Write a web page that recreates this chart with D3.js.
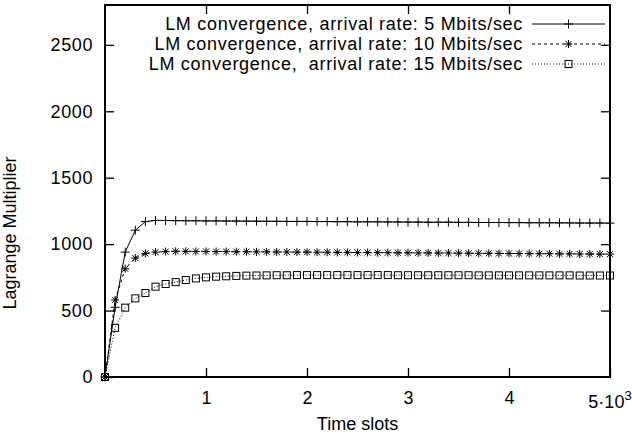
<!DOCTYPE html>
<html>
<head>
<meta charset="utf-8">
<script src="https://cdn.jsdelivr.net/npm/d3@7"></script>
<style>
  body { margin: 0; background: #fff; }
  text { font-family: "Liberation Sans", Arial, sans-serif; fill: #000; white-space: pre; }
</style>
</head>
<body>
<div id="chart"></div>
<script>

// time slots, one sample every 100 slots
var slots = d3.range(0, 5001, 100);

// LM values
var lm5 = [0, 525, 940, 1105, 1170, 1178, 1178, 1177, 1176, 1176, 1175,
    1175, 1174, 1174, 1173, 1173, 1172, 1172, 1171, 1171, 1171,
    1170, 1170, 1169, 1169, 1168, 1168, 1168, 1167, 1167, 1166,
    1166, 1165, 1165, 1165, 1164, 1164, 1163, 1163, 1163, 1162,
    1162, 1161, 1161, 1161, 1160, 1160, 1159, 1159, 1159, 1158];

var lm10 = [0, 580, 815, 895, 930, 940, 944, 946, 946, 945, 945,
    944, 944, 943, 943, 942, 942, 941, 941, 940, 940,
    939, 939, 938, 938, 937, 937, 936, 936, 935, 935,
    934, 934, 933, 933, 932, 932, 931, 931, 930, 930,
    929, 929, 928, 928, 927, 927, 926, 926, 925, 925];

var lm15 = [0, 370, 522, 592, 632, 680, 700, 714, 730, 742, 750,
    755, 758, 761, 763, 764, 765, 766, 766, 767, 767,
    767, 767, 767, 767, 767, 767, 767, 767, 766, 766,
    766, 766, 766, 766, 766, 766, 765, 765, 765, 765,
    765, 765, 765, 765, 765, 765, 764, 764, 764, 764];

var seriesNames = ["LM convergence, arrival rate: 5 Mbits/sec",
    "LM convergence, arrival rate: 10 Mbits/sec",
    "LM convergence,  arrival rate: 15 Mbits/sec"];

var xTicks = [1000, 2000, 3000, 4000, 5000];
var yTicks = [0, 500, 1000, 1500, 2000, 2500];

var margin = { top: 5, right: 22, bottom: 64, left: 105 };
var width = 632 - margin.left - margin.right,
    height = 441 - margin.top - margin.bottom;

var svg = d3.select("#chart").append("svg")
    .attr("width", 632)
    .attr("height", 441)
  .append("g")
    .attr("transform", "translate(" + margin.left + "," + margin.top + ")");

var x = d3.scaleLinear().domain([0, 5000]).range([0, width]);
var y = d3.scaleLinear().domain([0, 2800]).range([height, 0]);

// inward ticks on all four sides, gnuplot style
var tickLen = 9;
var xAxis = d3.axisBottom(x).tickValues(xTicks).tickSizeInner(-tickLen).tickSizeOuter(0)
    .tickFormat(function(d) { return d === 5000 ? "" : d / 1000; });
var yAxis = d3.axisLeft(y).tickValues(yTicks).tickSizeInner(-tickLen).tickSizeOuter(0)
    .tickFormat(d3.format("d"));

var gx = svg.append("g").attr("class", "x-axis axis")
    .attr("transform", "translate(0," + height + ")")
    .call(xAxis);
var gy = svg.append("g").attr("class", "y-axis axis").call(yAxis);

svg.append("g").attr("transform", "translate(0,0)")
    .call(d3.axisTop(x).tickValues(xTicks.slice(0, 4)).tickSizeInner(-tickLen).tickSizeOuter(0).tickFormat(""));
svg.append("g").attr("transform", "translate(" + width + ",0)")
    .call(d3.axisRight(y).tickValues(yTicks.slice(1)).tickSizeInner(-tickLen).tickSizeOuter(0).tickFormat(""));

svg.selectAll(".domain").remove();
svg.selectAll(".tick line").attr("stroke", "#000").attr("stroke-width", 1.3);

gx.selectAll(".tick text").attr("font-size", "18px").attr("dy", "1.35em");
gy.selectAll(".tick text").attr("font-size", "18px").attr("x", -12)
    .attr("letter-spacing", "0.6px");

// the last x label carries a superscript
var lastTick = gx.append("text")
    .attr("x", x(5000))
    .attr("y", 31)
    .attr("text-anchor", "middle")
    .attr("font-size", "18px");
lastTick.append("tspan").text("5\u00b710");
lastTick.append("tspan").text("3").attr("font-size", "13px").attr("dy", -8);

// frame
svg.append("rect")
    .attr("width", width)
    .attr("height", height)
    .attr("fill", "none")
    .attr("stroke", "#000")
    .attr("stroke-width", 2);

svg.append("text")
    .attr("x", width / 2)
    .attr("y", height + 53)
    .attr("text-anchor", "middle")
    .attr("font-size", "18px")
    .text("Time slots");

svg.append("text")
    .attr("transform", "translate(" + (-89) + "," + 228 + ") rotate(-90)")
    .attr("text-anchor", "middle")
    .attr("font-size", "18px")
    .text("Lagrange Multiplier");

// markers
function plusMark(g) {
    g.append("path").attr("d", "M-4.5,0h9M0,-4.5v9");
}
function starMark(g) {
    g.append("path").attr("d", "M-4,0h8M0,-4v8M-3,-3l6,6M-3,3l6,-6");
}
function boxMark(g) {
    g.append("rect").attr("x", -3.5).attr("y", -3.5).attr("width", 7).attr("height", 7).attr("fill", "none");
}

var series = [
    { values: lm5, dash: null, mark: plusMark },
    { values: lm10, dash: "3,3", mark: starMark },
    { values: lm15, dash: "1,2", mark: boxMark }
];

var line = d3.line()
    .x(function(d, i) { return x(slots[i]); })
    .y(function(d) { return y(d); });

series.forEach(function(s, k) {
    var g = svg.append("g")
        .attr("fill", "none")
        .attr("stroke", "#000")
        .attr("stroke-width", 1);

    g.append("path")
        .attr("d", line(s.values))
        .attr("stroke-dasharray", s.dash);

    s.values.forEach(function(v, i) {
        var m = g.append("g").attr("transform", "translate(" + x(slots[i]) + "," + y(v) + ")");
        s.mark(m);
    });

    // legend entry
    var ly = 19 + k * 20;
    svg.append("text")
        .attr("x", 418)
        .attr("y", ly + 6)
        .attr("text-anchor", "end")
        .attr("font-size", "18px")
        .attr("letter-spacing", "0.7px")
        .text(seriesNames[k]);

    var lg = svg.append("g")
        .attr("fill", "none")
        .attr("stroke", "#000")
        .attr("stroke-width", 1);
    lg.append("line")
        .attr("x1", 427).attr("x2", 500)
        .attr("y1", ly).attr("y2", ly)
        .attr("stroke-dasharray", s.dash);
    s.mark(lg.append("g").attr("transform", "translate(463.5," + ly + ")"));
});

</script>
</body>
</html>
